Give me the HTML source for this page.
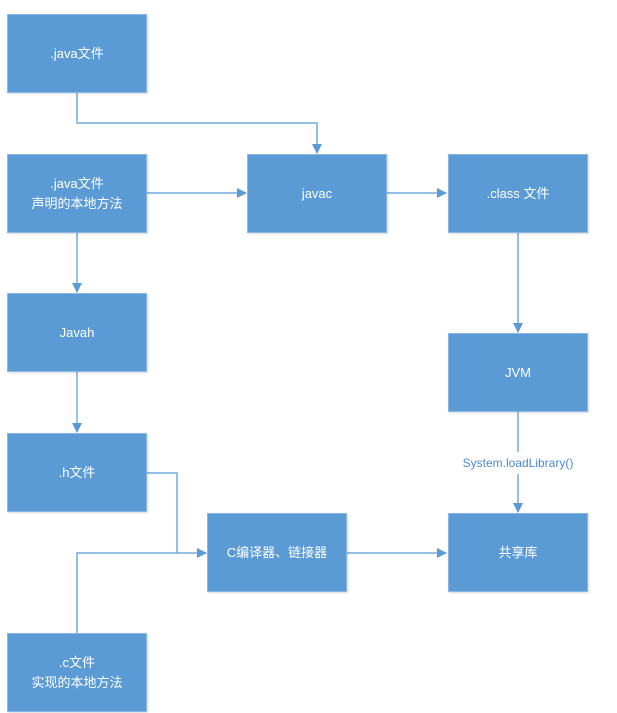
<!DOCTYPE html>
<html><head><meta charset="utf-8"><style>
body{margin:0;background:#fff;width:617px;height:713px;overflow:hidden;position:relative;font-family:"Liberation Sans","Noto Sans CJK SC",sans-serif}
.b{position:absolute;width:140px;height:79px;background:#5b9bd5;border:1px solid #8ab8e2;box-sizing:border-box;color:#fff;font-size:13px;display:flex;align-items:center;justify-content:center;text-align:center;line-height:20px;box-shadow:1px 1px 2px rgba(0,0,0,.15)}
svg{position:absolute;left:0;top:0}
</style></head><body>
<svg width="617" height="713">
<defs><marker id="a" markerWidth="10" markerHeight="10" refX="9" refY="5" orient="auto" markerUnits="userSpaceOnUse"><path d="M0,0 L10,5 L0,10z" fill="#5b9bd5"/></marker></defs>
<g stroke="#74aade" stroke-width="1.5" fill="none">
<path d="M77,93 V123 H317 V153" marker-end="url(#a)"/>
<path d="M147,193 H246" marker-end="url(#a)"/>
<path d="M387,193 H446" marker-end="url(#a)"/>
<path d="M518,233 V332" marker-end="url(#a)"/>
<path d="M518,412 V452 M518,474 V512" marker-end="url(#a)"/>
<path d="M77,233 V292" marker-end="url(#a)"/>
<path d="M77,372 V432" marker-end="url(#a)"/>
<path d="M147,473 H177 V553 H206" marker-end="url(#a)"/>
<path d="M77,633 V553 H177"/>
<path d="M347,553 H446" marker-end="url(#a)"/>
</g>
<text x="518" y="467" font-size="12" fill="#4a8bd0" text-anchor="middle" font-family="Liberation Sans,sans-serif">System.loadLibrary()</text>
</svg>
<div class="b" style="left:7px;top:14px">.java文件</div>
<div class="b" style="left:7px;top:154px">.java文件<br>声明的本地方法</div>
<div class="b" style="left:247px;top:154px">javac</div>
<div class="b" style="left:448px;top:154px">.class 文件</div>
<div class="b" style="left:7px;top:293px">Javah</div>
<div class="b" style="left:448px;top:333px">JVM</div>
<div class="b" style="left:7px;top:433px">.h文件</div>
<div class="b" style="left:207px;top:513px">C编译器、链接器</div>
<div class="b" style="left:448px;top:513px">共享库</div>
<div class="b" style="left:7px;top:633px">.c文件<br>实现的本地方法</div>
</body></html>
